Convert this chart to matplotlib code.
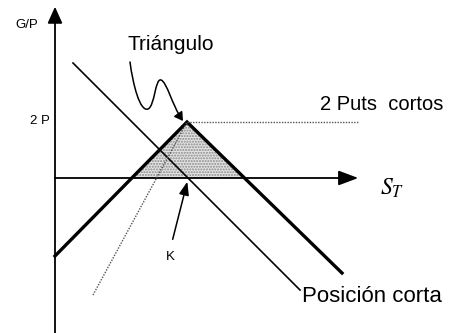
import matplotlib.pyplot as plt
from matplotlib.path import Path
from matplotlib.patches import FancyArrowPatch
import numpy as np

plt.rcParams['font.family'] = ['Liberation Sans', 'DejaVu Sans']
plt.rcParams['mathtext.fontset'] = 'stix'

# diagram data (S_T on x, profit on y), origin where the axes cross
K = 133
short_x = [18, 245]
short_y = [K - 18, K - 245]
puts_x = [0, 132, 287]
puts_y = [-78, 56, -95]
level_x = [132, 303]
level_y = [56, 56]
diag_x = [38, 132]
diag_y = [-117, 56]

fig = plt.figure(figsize=(4.57, 3.33), dpi=100)
ax = fig.add_axes([0, 0, 1, 1])
ax.set_xlim(-55, 402)
ax.set_ylim(-155, 178)
ax.axis('off')

# axes with arrows
ax.plot([0, 0], [-155, 160], color='black', lw=1.3)
ax.plot([0, 290], [0, 0], color='black', lw=1.3)
ax.annotate('', xy=(0, 174), xytext=(0, 155),
            arrowprops=dict(arrowstyle='-|>,head_length=1.0,head_width=0.45', color='black', lw=1.3))
ax.annotate('', xy=(306, 0), xytext=(285, 0),
            arrowprops=dict(arrowstyle='-|>,head_length=1.2,head_width=0.45', color='black', lw=1.3))

# shaded triangle
zero_left = 132 - 56 * (132 - 0) / (56 + 78)
zero_right = 132 + 56 * (287 - 132) / (56 + 95)
tri_x = [zero_left, 132, zero_right]
tri_y = [0, 56, 0]
ax.fill(tri_x, tri_y, facecolor='#e4e4e4', edgecolor='#888888', hatch='......', lw=0)

ax.plot(short_x, short_y, color='black', lw=1.2)
ax.plot(puts_x, puts_y, color='black', lw=2.4, solid_joinstyle='miter')
ax.plot(level_x, level_y, color='#555555', lw=1.0, ls=(0, (1, 1)))
ax.plot(diag_x, diag_y, color='#555555', lw=1.0, ls=(0, (1, 1)))

# squiggly arrow to the triangle
verts = [(75, 116), (78, 93), (85, 66), (93, 69),
         (100, 72), (100, 100), (106, 98),
         (112, 96), (117, 73), (128, 57)]
codes = [Path.MOVETO] + [Path.CURVE4] * 9
ax.add_patch(FancyArrowPatch(path=Path(verts, codes), arrowstyle='-|>,head_length=5,head_width=3',
                             color='black', lw=1.1))

# arrow to K
ax.annotate('', xy=(K, -1), xytext=(117, -64),
            arrowprops=dict(arrowstyle='-|>,head_length=0.8,head_width=0.3', color='black', lw=1.1))

ax.text(-28, 153, 'G/P', fontsize=9.5, ha='center', va='center')
ax.text(73, 133, 'Triángulo', fontsize=15, ha='left', va='center')
ax.text(-15, 57, '2 P', fontsize=9.5, ha='center', va='center')
ax.text(265, 74, '2 Puts  cortos', fontsize=14.5, ha='left', va='center')
ax.text(325, -10, '$S_T$', fontsize=17, ha='left', va='center')
ax.text(115, -79, 'K', fontsize=9.5, ha='center', va='center')
ax.text(247, -118, 'Posición corta', fontsize=16, ha='left', va='center')

fig.savefig('out.png', dpi=100)
